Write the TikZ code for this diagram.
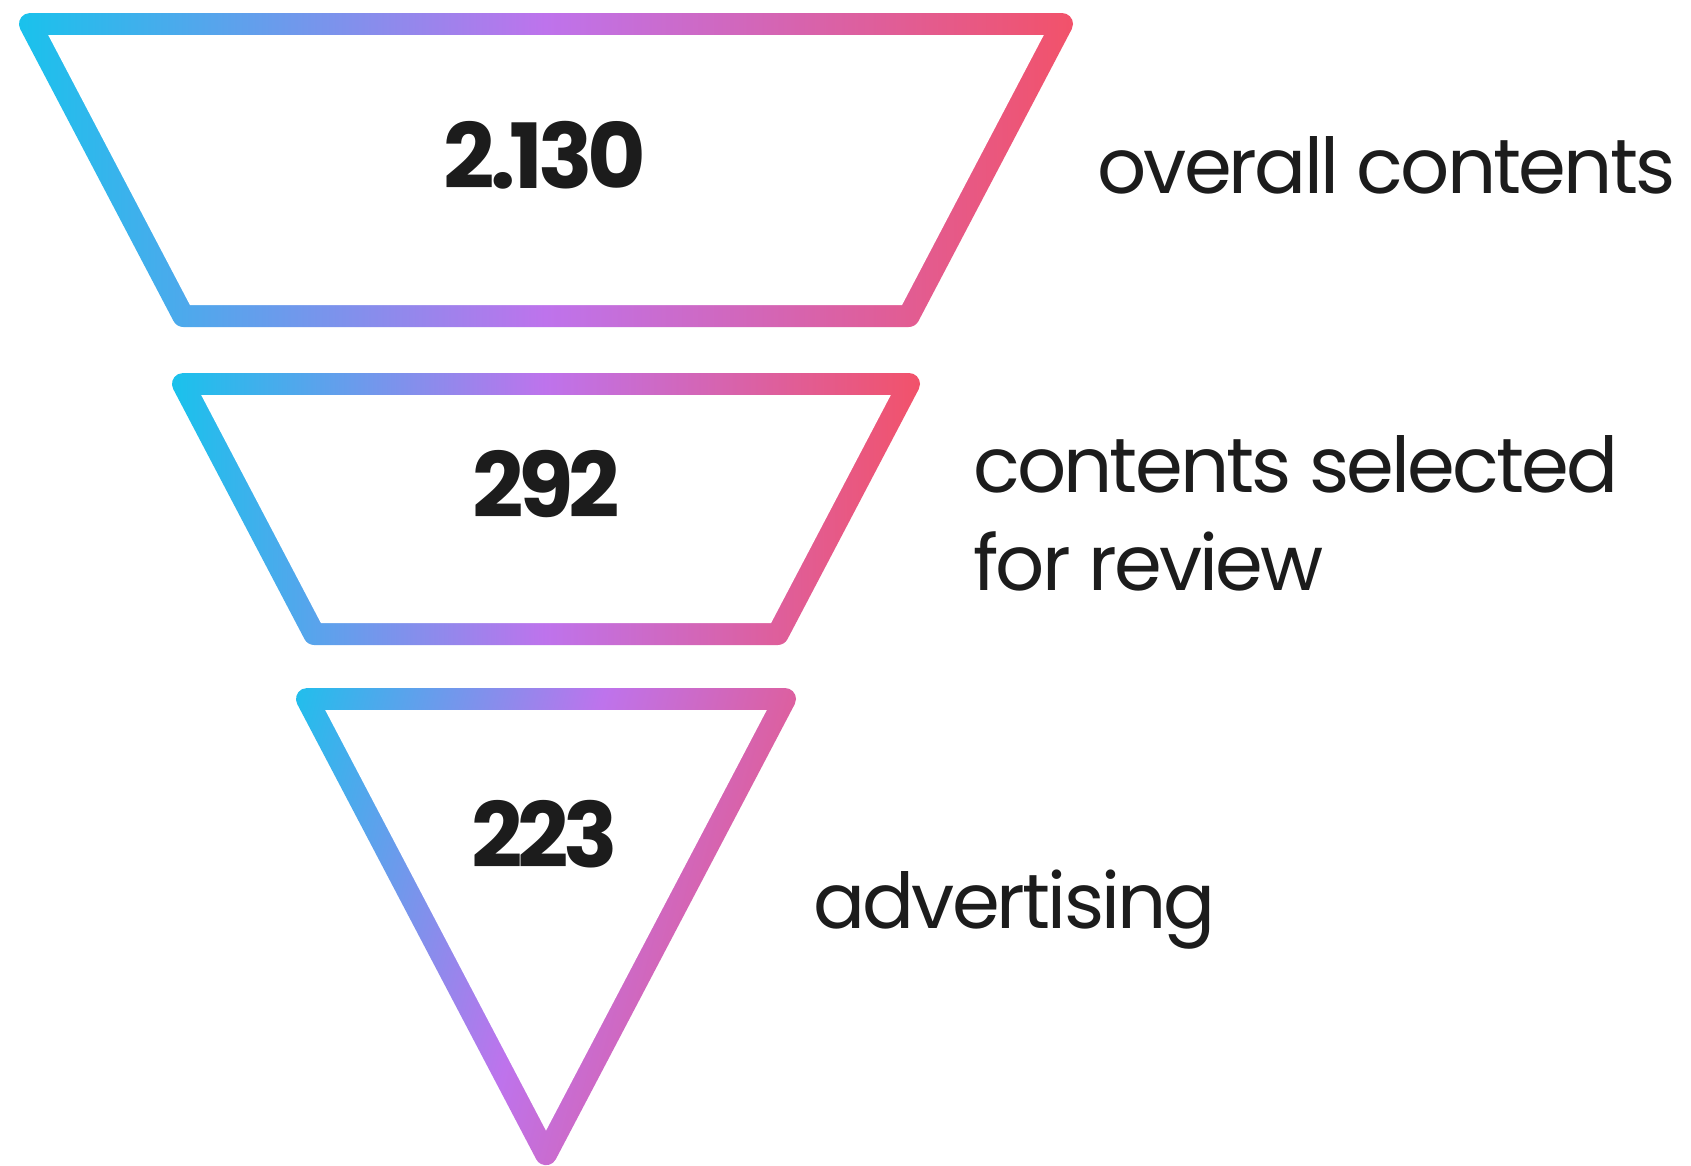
\documentclass[tikz,border=0pt]{standalone}
\usepackage{fontspec}
\setmainfont{Poppins}
\newfontfamily\labfont[LetterSpace=-3.7]{Poppins}
\newfontfamily\numfont[LetterSpace=-6]{Poppins Bold}
\definecolor{gcyan}{HTML}{19C2EC}
\definecolor{gpurple}{HTML}{BE73EC}
\definecolor{gred}{HTML}{F2526A}
\definecolor{ink}{HTML}{1C1C1C}
\begin{document}
\begin{tikzpicture}[x=1pt,y=-1pt,
  numtxt/.style={font=\numfont\fontsize{90}{90}\selectfont, text=ink, inner sep=0pt, anchor=base},
  labtxt/.style={font=\labfont\fontsize{77}{98}\selectfont, text=ink, inner sep=0pt, anchor=base west, align=left},
  grad/.style={left color=gcyan, right color=gred, middle color=gpurple},
  hole/.style={fill=white}]
\useasboundingbox[fill=white] (0,0) rectangle (1691,1165);
% stage 1
\shade[grad] (30,13) -- (1062,13) arc[start angle=-90, end angle=27.7, radius=11]
  -- (918.44,321.11) arc[start angle=27.7, end angle=90, radius=11]
  -- (183.3,327) arc[start angle=90, end angle=152.3, radius=11]
  -- (20.26,29.11) arc[start angle=152.3, end angle=270, radius=11] -- cycle;
\fill[hole] (48.2,35) -- (1043.8,35) -- (902.05,305) -- (189.95,305) -- cycle;
% stage 2
\shade[grad] (183,373) -- (909,373) arc[start angle=-90, end angle=27.7, radius=11]
  -- (787.49,639.11) arc[start angle=27.7, end angle=90, radius=11]
  -- (314.25,645) arc[start angle=90, end angle=152.3, radius=11]
  -- (173.26,389.11) arc[start angle=152.3, end angle=270, radius=11] -- cycle;
\fill[hole] (201.2,395) -- (890.8,395) -- (771.1,623) -- (320.9,623) -- cycle;
% stage 3
\begin{scope}
\clip (307,688) -- (785,688) arc[start angle=-90, end angle=27.7, radius=11]
  -- (555.74,1159.31) arc[start angle=27.7, end angle=152.3, radius=11]
  -- (297.26,704.11) arc[start angle=152.3, end angle=270, radius=11] -- cycle;
\shade[grad, transform canvas={rotate around={-15:(292,688)}}] (280,-100) rectangle (910,1500);
\end{scope}
\fill[hole] (325.2,710) -- (766.8,710) -- (546,1130.6) -- cycle;
% numbers
\node[numtxt] (n1) at (545,188) {2.130};
\node[numtxt] (n2) at (546,517) {292};
\node[numtxt] (n3) at (545,867) {223};
% labels
\node[labtxt] (l1) at (1097,193) {overall contents};
\node[labtxt] (l2) at (973,590) {contents selected\\for review};
\node[labtxt] (l3) at (813,928) {advertising};
\end{tikzpicture}
\end{document}
